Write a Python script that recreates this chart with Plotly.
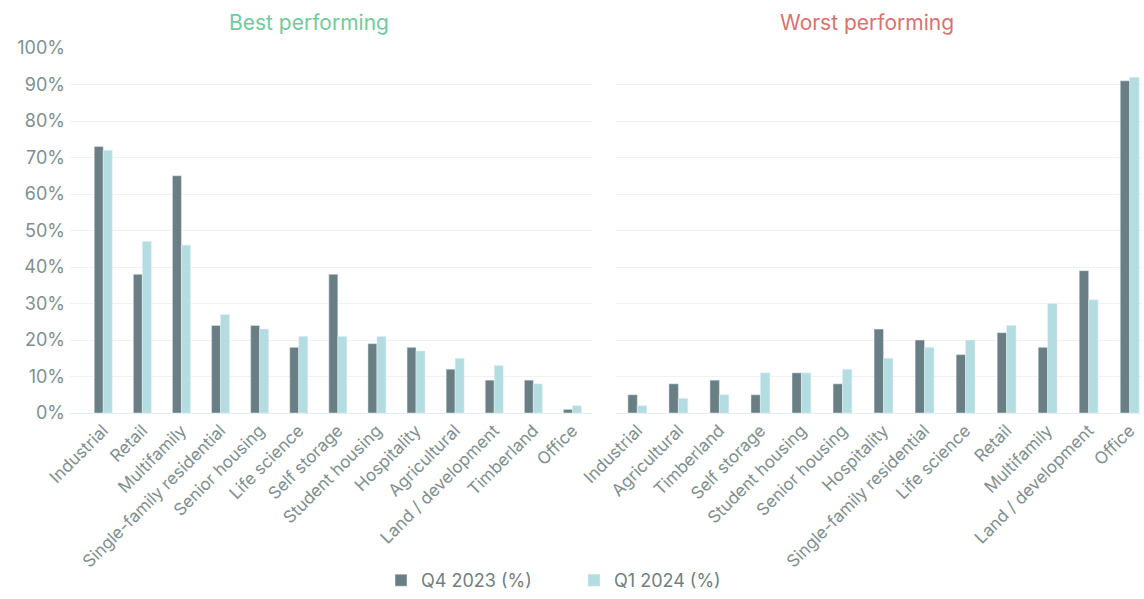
import plotly.graph_objects as go

best_categories = ["Industrial", "Retail", "Multifamily", "Single-family residential", "Senior housing",
                   "Life science", "Self storage", "Student housing", "Hospitality", "Agricultural",
                   "Land / development", "Timberland", "Office"]
best_q4_2023 = [73, 38, 65, 24, 24, 18, 38, 19, 18, 12, 9, 9, 1]
best_q1_2024 = [72, 47, 46, 27, 23, 21, 21, 21, 17, 15, 13, 8, 2]

worst_categories = ["Industrial", "Agricultural", "Timberland", "Self storage", "Student housing",
                    "Senior housing", "Hospitality", "Single-family residential", "Life science",
                    "Retail", "Multifamily", "Land / development", "Office"]
worst_q4_2023 = [5, 8, 9, 5, 11, 8, 23, 20, 16, 22, 18, 39, 91]
worst_q1_2024 = [2, 4, 5, 11, 11, 12, 15, 18, 20, 24, 30, 31, 92]

y_ticks = [0, 10, 20, 30, 40, 50, 60, 70, 80, 90, 100]
y_tick_labels = [f"{v}%" for v in y_ticks]

DARK = "#6a7f84"
LIGHT = "#b3dde1"
FONT = "Inter"
GRAY = "#7f8f8f"

W, H = 1144, 599
L, R, T, B = 70, 2, 48, 186
PW = W - L - R
PH = H - T - B

fig = go.Figure()
fig.add_trace(go.Bar(x=best_categories, y=best_q4_2023, name="Q4 2023 (%)", marker_color=DARK,
                     xaxis="x", yaxis="y", legendgroup="a"))
fig.add_trace(go.Bar(x=best_categories, y=best_q1_2024, name="Q1 2024 (%)", marker_color=LIGHT,
                     xaxis="x", yaxis="y", legendgroup="b"))
fig.add_trace(go.Bar(x=worst_categories, y=worst_q4_2023, name="Q4 2023 (%)", marker_color=DARK,
                     xaxis="x2", yaxis="y2", showlegend=False, legendgroup="a"))
fig.add_trace(go.Bar(x=worst_categories, y=worst_q1_2024, name="Q1 2024 (%)", marker_color=LIGHT,
                     xaxis="x2", yaxis="y2", showlegend=False, legendgroup="b"))

xcommon = dict(tickangle=-45, tickfont=dict(family=FONT, size=17, color=GRAY), showgrid=False,
               showline=True, linecolor="#e3eef0", linewidth=1, ticks="", zeroline=False,
               automargin=False)
ycommon = dict(range=[0, 100], tickvals=y_ticks, gridcolor="#f0f2f2", gridwidth=1,
               zeroline=False, showline=False, ticks="", automargin=False)

def px(x):
    return (x - L) / PW

fig.update_layout(
    width=W, height=H,
    margin=dict(l=L, r=R, t=T, b=B),
    paper_bgcolor="white", plot_bgcolor="white",
    barmode="group", bargap=0.54, bargroupgap=0,
    font=dict(family=FONT, color=GRAY),
    xaxis=dict(domain=[0, px(592)], range=[-0.85, 12.5], **xcommon),
    xaxis2=dict(domain=[px(616), 1], range=[-0.52, 12.3], **xcommon),
    yaxis=dict(anchor="x", ticktext=y_tick_labels, showticklabels=True,
               tickfont=dict(family=FONT, size=18, color=GRAY), ticklabelstandoff=4, **ycommon),
    yaxis2=dict(anchor="x2", showticklabels=False, **ycommon),
    legend=dict(orientation="h", xref="container", x=381 / W, xanchor="left",
                yref="container", y=-5 / H, yanchor="bottom",
                font=dict(family=FONT, size=18, color="#6f7f7f"), itemwidth=30,
                entrywidth=148, entrywidthmode="pixels"),
    annotations=[
        dict(text="Best performing", x=px(309), y=1 + (T - 22) / PH, xref="paper", yref="paper",
             showarrow=False, font=dict(family=FONT, size=21, color="#74c99b"),
             xanchor="center", yanchor="middle"),
        dict(text="Worst performing", x=px(867), y=1 + (T - 22) / PH, xref="paper", yref="paper",
             showarrow=False, font=dict(family=FONT, size=21, color="#d8716f"),
             xanchor="center", yanchor="middle"),
    ],
)

fig.write_html("out.html")
